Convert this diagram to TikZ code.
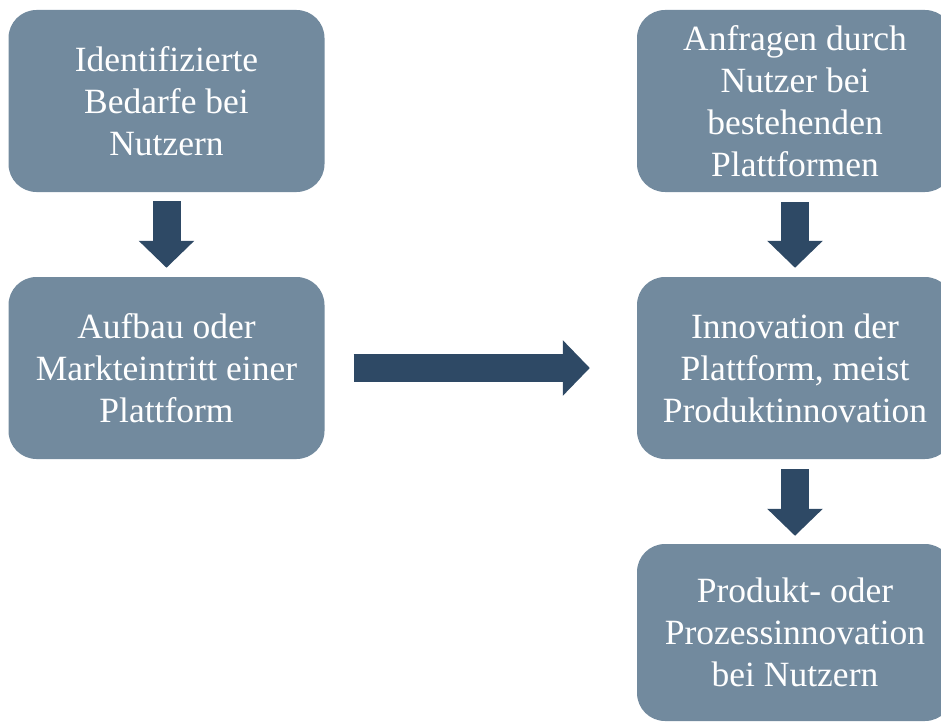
\documentclass[tikz,border=0pt]{standalone}
\usepackage{fontspec}
\setmainfont{Liberation Serif}
\usetikzlibrary{arrows.meta}
\definecolor{boxfill}{RGB}{114,138,158}
\definecolor{arrowc}{RGB}{46,73,101}
\begin{document}
\begin{tikzpicture}[x=1pt,y=1pt,
  box/.style={fill=boxfill, draw=none, rounded corners=28pt, text=white,
    minimum width=316pt, minimum height=182pt, align=center, inner sep=0pt,
    font=\fontsize{35.5pt}{42pt}\selectfont},
  blockarrow/.style={draw=arrowc, line width=28pt,
    -{Triangle[width=54pt,length=27pt]}, arrowc}]
\useasboundingbox (0,0) rectangle (941,-722);
\clip (0,0) rectangle (941,-722);
\node[box] (b1) at (166.5,-101) {Identifizierte\\Bedarfe bei\\Nutzern};
\node[box] (b2) at (166.5,-368) {Aufbau oder\\Markteintritt einer\\Plattform};
\node[box] (r1) at (795,-101) {Anfragen durch\\Nutzer bei\\bestehenden\\Plattformen};
\node[box] (r2) at (795,-368) {Innovation der\\Plattform, meist\\Produktinnovation};
\node[box, minimum height=177pt] (r3) at (795,-632.5) {Produkt- oder\\Prozessinnovation\\bei Nutzern};
\draw[blockarrow, shorten <=9pt, shorten >=9pt] (b1.south) -- (b2.north);
\draw[blockarrow, shorten <=10pt, shorten >=9pt] (r1.south) -- (r2.north);
\draw[blockarrow, shorten <=10pt, shorten >=8pt] (r2.south) -- (r3.north);
\draw[blockarrow, shorten <=29pt, shorten >=47pt] (b2.east) -- (r2.west);
\end{tikzpicture}
\end{document}
